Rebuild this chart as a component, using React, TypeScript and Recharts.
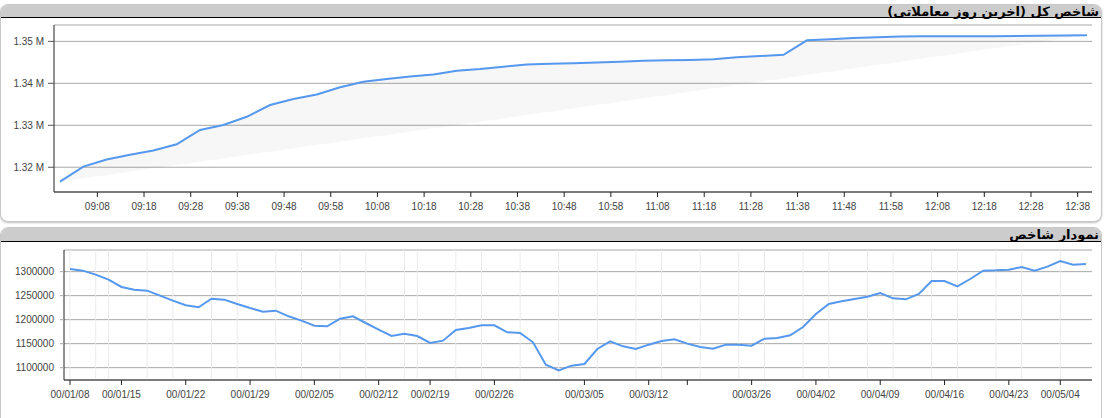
import React from 'react';
import { LineChart, Line, XAxis, YAxis, CartesianGrid, ReferenceLine } from 'recharts';

const topTitle = 'شاخص کل (آخرین روز معاملاتی)';
const bottomTitle = 'نمودار شاخص';

// minutes after 09:00
const intradayMinutes = [
  0, 5, 10, 15, 20, 25, 30, 35, 40, 45, 50, 55, 60, 65, 70, 75, 80, 85, 90, 95,
  100, 105, 110, 115, 120, 125, 130, 135, 140, 145, 150, 155, 160, 165, 170, 175,
  180, 185, 190, 195, 200, 205, 210, 215, 220,
];
const intradayValues = [
  1316570, 1320140, 1321860, 1322980, 1324000, 1325480, 1328880, 1330070, 1332020, 1334830,
  1336260, 1337330, 1339050, 1340380, 1341020, 1341620, 1342100, 1342980, 1343400, 1343950,
  1344500, 1344640, 1344810, 1344980, 1345140, 1345380, 1345480, 1345550, 1345710, 1346190,
  1346500, 1346810, 1350240, 1350500, 1350790, 1350980, 1351140, 1351190, 1351210, 1351210,
  1351240, 1351260, 1351330, 1351400, 1351450,
];
const intradayTicks = [8, 18, 28, 38, 48, 58, 68, 78, 88, 98, 108, 118, 128, 138, 148, 158, 168, 178, 188, 198, 208, 218];
const intradayTickLabels = [
  '09:08', '09:18', '09:28', '09:38', '09:48', '09:58', '10:08', '10:18', '10:28', '10:38', '10:48',
  '10:58', '11:08', '11:18', '11:28', '11:38', '11:48', '11:58', '12:08', '12:18', '12:28', '12:38',
];
const intradayYTicks = [1320000, 1330000, 1340000, 1350000];

const dailyValues = [
  1305500, 1302100, 1293750, 1283300, 1268050, 1262500, 1260400, 1250000, 1239600, 1229900,
  1225700, 1243750, 1241650, 1232640, 1224300, 1216700, 1218750, 1206950, 1197900, 1187500,
  1186100, 1202100, 1206950, 1193050, 1179200, 1165950, 1170850, 1165950, 1151400, 1156250,
  1178500, 1182650, 1188200, 1188200, 1173600, 1172200, 1152800, 1106250, 1094450, 1104150,
  1107650, 1138900, 1154850, 1144450, 1138900, 1147900, 1155550, 1159000, 1150000, 1143050,
  1139600, 1147900, 1147900, 1145800, 1160400, 1161800, 1167350, 1184700, 1211800, 1232650,
  1238200, 1243050, 1247900, 1255550, 1244450, 1242350, 1253450, 1280550, 1280550, 1269450,
  1284700, 1302100, 1302800, 1304150, 1309700, 1302100, 1310400, 1322200, 1314600, 1316000,
];
const dailyTickIndex = [0, 4, 9, 14, 19, 24, 28, 33, 40, 45, 48, 53, 58, 63, 68, 73, 77];
const dailyTickLabels = [
  '00/01/08', '00/01/15', '00/01/22', '00/01/29', '00/02/05', '00/02/12', '00/02/19', '00/02/26',
  '00/03/05', '00/03/12', '', '00/03/26', '00/04/02', '00/04/09', '00/04/16', '00/04/23', '00/05/04',
];
const dailyGridIndex = [
  0, 2, 3, 6, 8, 11, 13, 16, 18, 21, 23, 26, 27, 30, 32, 35, 38, 41, 44, 46, 49, 52, 54, 57, 59,
  62, 64, 67, 69, 72, 74, 77,
];
const dailyYTicks = [1100000, 1150000, 1200000, 1250000, 1300000];

const FONT = 'Arial, "Liberation Sans", sans-serif';
const TITLE_FONT = 'Tahoma, "DejaVu Sans", sans-serif';
const LINE_COLOR = '#5598ee';
const tickStyle = { fill: '#444', fontSize: 10, fontFamily: FONT };

const headerStyle: React.CSSProperties = {
  position: 'absolute',
  left: 0,
  top: 0,
  right: 0,
  height: 12,
  background: '#cccccc',
  borderBottom: '1.5px solid #000',
  textAlign: 'right',
  direction: 'rtl',
  fontFamily: TITLE_FONT,
  fontWeight: 'bold',
  fontSize: 13,
  lineHeight: '13px',
  color: '#000',
  paddingRight: 2,
  whiteSpace: 'nowrap',
};

export default function App() {
  const topData = intradayMinutes.map((m, k) => ({ m, v: intradayValues[k] }));
  const bottomData = dailyValues.map((v, i) => ({ i, v }));
  const topLabel = (m: number) => {
    const k = intradayTicks.indexOf(m);
    return k >= 0 ? intradayTickLabels[k] : '';
  };
  const bottomLabel = (i: number) => {
    const k = dailyTickIndex.indexOf(i);
    return k >= 0 ? dailyTickLabels[k] : '';
  };
  const fmtM = (v: number) => (v / 1000000).toFixed(2) + ' M';

  return (
    <div
      style={{
        position: 'absolute',
        left: 0,
        top: 0,
        width: 1106,
        height: 418,
        background: '#fff',
        overflow: 'hidden',
        fontFamily: FONT,
      }}
    >
      <style>{`.intraday-line .recharts-line-curve { fill: rgba(0,0,0,0.032); }`}</style>

      {/* top panel frame */}
      <div
        style={{
          position: 'absolute',
          left: 0,
          top: 4,
          width: 1102,
          height: 218,
          boxSizing: 'border-box',
          border: '1px solid #c8c8c8',
          borderRadius: 8,
          boxShadow: '0 1px 2px rgba(0,0,0,0.25)',
          overflow: 'hidden',
          background: '#fff',
        }}
      >
        <div style={headerStyle}>{topTitle}</div>
      </div>

      {/* bottom panel frame */}
      <div
        style={{
          position: 'absolute',
          left: 0,
          top: 227,
          width: 1102,
          height: 220,
          boxSizing: 'border-box',
          border: '1px solid #c8c8c8',
          borderRadius: 8,
          overflow: 'hidden',
          background: '#fff',
        }}
      >
        <div style={{ ...headerStyle, height: 13 }}>{bottomTitle}</div>
      </div>

      {/* top chart */}
      <div style={{ position: 'absolute', left: 0, top: 0 }}>
        <LineChart width={1106} height={222} data={topData} margin={{ top: 25, right: 14, bottom: 0, left: 0 }}>
          <CartesianGrid vertical={false} stroke="#a8a8a8" />
          <XAxis
            dataKey="m"
            type="number"
            domain={[0, 220]}
            ticks={intradayTicks}
            interval={0}
            padding={{ left: 6, right: 5 }}
            tickFormatter={topLabel}
            height={30}
            tickSize={5}
            tickMargin={6}
            tick={tickStyle}
            axisLine={{ stroke: '#222' }}
            tickLine={{ stroke: '#222' }}
          />
          <YAxis
            type="number"
            domain={[1314100, 1353900]}
            ticks={intradayYTicks}
            interval={0}
            tickFormatter={fmtM}
            width={54}
            tickSize={6}
            tickMargin={4}
            tick={tickStyle}
            axisLine={{ stroke: '#222' }}
            tickLine={{ stroke: '#555' }}
            allowDataOverflow
          />
          <Line
            className="intraday-line"
            type="linear"
            dataKey="v"
            stroke={LINE_COLOR}
            strokeWidth={2}
            dot={false}
            activeDot={false}
            isAnimationActive={false}
          />
        </LineChart>
      </div>

      {/* bottom chart */}
      <div style={{ position: 'absolute', left: 0, top: 228 }}>
        <LineChart width={1106} height={190} data={bottomData} margin={{ top: 22, right: 14, bottom: 0, left: 0 }}>
          {dailyGridIndex.map((i) => (
            <ReferenceLine key={'g' + i} x={i} stroke="#ebebeb" strokeWidth={1} />
          ))}
          <CartesianGrid vertical={false} stroke="#a8a8a8" />
          <XAxis
            dataKey="i"
            type="number"
            domain={[0, 79]}
            ticks={dailyTickIndex}
            interval={0}
            padding={{ left: 6, right: 6 }}
            tickFormatter={bottomLabel}
            height={38}
            tickSize={5}
            tickMargin={6}
            tick={tickStyle}
            axisLine={{ stroke: '#222' }}
            tickLine={{ stroke: '#222' }}
          />
          <YAxis
            type="number"
            domain={[1074300, 1345100]}
            ticks={dailyYTicks}
            interval={0}
            width={64}
            tickSize={4}
            tickMargin={6}
            tick={tickStyle}
            axisLine={{ stroke: '#222' }}
            tickLine={{ stroke: '#a8a8a8' }}
            allowDataOverflow
          />
          <Line
            type="linear"
            dataKey="v"
            stroke={LINE_COLOR}
            strokeWidth={2}
            dot={false}
            activeDot={false}
            isAnimationActive={false}
          />
        </LineChart>
      </div>
    </div>
  );
}
